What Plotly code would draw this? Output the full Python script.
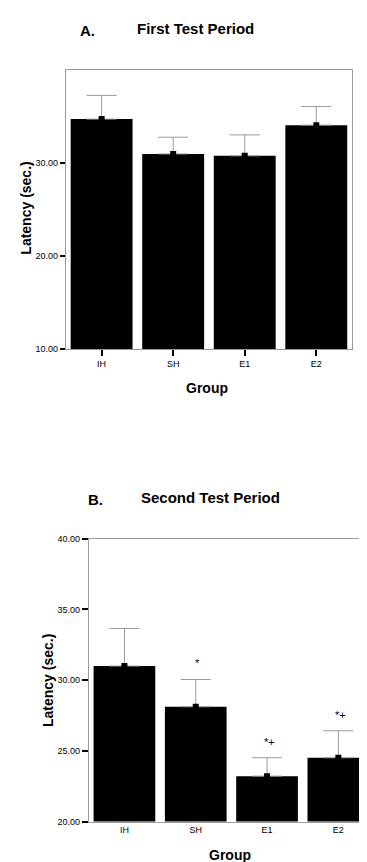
import plotly.graph_objects as go

groups = ["IH", "SH", "E1", "E2"]
first_means = [34.75, 31.0, 30.8, 34.1]
first_err = [2.55, 1.8, 2.25, 2.0]
second_means = [31.0, 28.12, 23.21, 24.51]
second_err = [2.66, 1.93, 1.3, 1.91]
second_marks = ["", "*", "*+", "*+"]

FONT = "Liberation Sans, Arial, sans-serif"
GREY = "#9a9a9a"

fig = go.Figure()

def add_panel(means, errs, xa, ya):
    fig.add_trace(go.Bar(
        x=groups, y=means, xaxis=xa, yaxis=ya, width=0.865,
        marker=dict(color="black", line=dict(width=0)),
        error_y=dict(type="data", symmetric=False, array=errs,
                     arrayminus=[0] * len(errs), color=GREY,
                     thickness=1, width=15),
        showlegend=False, hoverinfo="skip"))
    fig.add_trace(go.Scatter(
        x=groups, y=means, xaxis=xa, yaxis=ya, mode="markers",
        marker=dict(symbol="square", size=6, color="black"),
        showlegend=False, hoverinfo="skip"))

add_panel(first_means, first_err, "x", "y")
add_panel(second_means, second_err, "x2", "y2")

tickfont = dict(family=FONT, size=9, color="black")

fig.update_layout(
    width=367, height=862,
    margin=dict(l=0, r=0, t=0, b=0),
    paper_bgcolor="white", plot_bgcolor="white",
    bargap=0.135,
    xaxis=dict(domain=[58 / 367, 345 / 367], anchor="y",
               range=[-0.5, 3.5], showline=True, linecolor=GREY,
               linewidth=1, mirror=True, ticks="outside", ticklen=6,
               tickwidth=2, tickcolor="black", tickfont=tickfont,
               showgrid=False, zeroline=False),
    yaxis=dict(domain=[1 - 340 / 862, 1 - 58 / 862], anchor="x",
               range=[10, 40], tickvals=[10, 20, 30],
               ticktext=["10.00", "20.00", "30.00"],
               showline=True, linecolor=GREY, linewidth=1, mirror=True,
               ticks="outside", ticklen=5, tickwidth=2, tickcolor="black",
               tickfont=tickfont, showgrid=False, zeroline=False),
    xaxis2=dict(domain=[81 / 367, 1.0], anchor="y2",
                range=[-0.5, 3.5], showline=True, linecolor=GREY,
                linewidth=1, mirror=True, ticks="", tickfont=tickfont,
                showgrid=False, zeroline=False),
    yaxis2=dict(domain=[1 - 818 / 862, 1 - 532 / 862], anchor="x2",
                range=[20, 40], tickvals=[20, 25, 30, 35, 40],
                ticktext=["20.00", "25.00", "30.00", "35.00", "40.00"],
                showline=True, linecolor=GREY, linewidth=1, mirror=True,
                ticks="outside", ticklen=6, tickwidth=2, tickcolor="black",
                tickfont=tickfont, showgrid=False, zeroline=False),
)

bold = dict(family=FONT, size=15, color="black")
axt = dict(family=FONT, size=14, color="black")
ann = [
    dict(text="<b>A.</b>", x=80 / 367, y=1 - 18 / 862, font=bold),
    dict(text="<b>First Test Period</b>", x=188 / 367, y=1 - 16 / 862, font=bold),
    dict(text="<b>Group</b>", x=200 / 367, y=1 - 379 / 862, font=axt),
    dict(text="<b>Latency (sec.)</b>", x=18 / 367, y=1 - 197 / 862, font=axt, textangle=-90),
    dict(text="<b>B.</b>", x=88 / 367, y=1 - 492 / 862, font=bold),
    dict(text="<b>Second Test Period</b>", x=203 / 367, y=1 - 490 / 862, font=bold),
    dict(text="<b>Group</b>", x=223 / 367, y=1 - 852 / 862, font=axt),
    dict(text="<b>Latency (sec.)</b>", x=40 / 367, y=1 - 675 / 862, font=axt, textangle=-90),
]
for a in ann:
    a.update(xref="paper", yref="paper", showarrow=False,
             xanchor="center", yanchor="middle")
    fig.add_annotation(**a)

for g, m, e, t in zip(groups, second_means, second_err, second_marks):
    if t:
        fig.add_annotation(x=g, y=m + e, xref="x2", yref="y2", text=t,
                           showarrow=False, yanchor="bottom", yshift=8,
                           xshift=2,
                           font=dict(family=FONT, size=11, color="black"))

fig.write_html("out.html")
